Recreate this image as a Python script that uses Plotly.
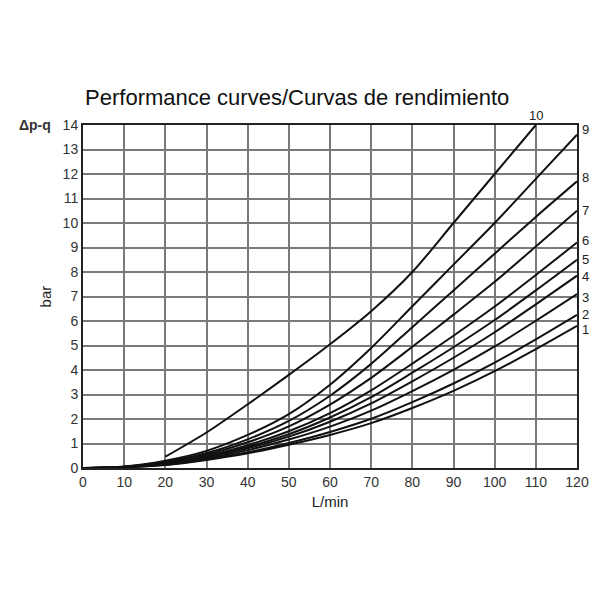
import plotly.graph_objects as go

# Flow (L/min)
flow = [0, 10, 20, 30, 40, 50, 60, 70, 80, 90, 100, 110, 120]

# Pressure drop (bar) for curves 1..9
curve_1 = [0, 0.03, 0.12, 0.33, 0.60, 0.95, 1.35, 1.83, 2.45, 3.15, 3.95, 4.85, 5.80]
curve_2 = [0, 0.03, 0.13, 0.35, 0.64, 1.02, 1.47, 2.01, 2.69, 3.45, 4.30, 5.25, 6.25]
curve_3 = [0, 0.035, 0.15, 0.39, 0.73, 1.16, 1.69, 2.34, 3.14, 4.01, 4.96, 6.01, 7.10]
curve_4 = [0, 0.04, 0.17, 0.43, 0.80, 1.28, 1.89, 2.64, 3.54, 4.50, 5.54, 6.68, 7.85]
curve_5 = [0, 0.04, 0.18, 0.46, 0.86, 1.38, 2.06, 2.89, 3.89, 4.93, 6.04, 7.25, 8.50]
curve_6 = [0, 0.045, 0.20, 0.49, 0.93, 1.50, 2.24, 3.17, 4.26, 5.40, 6.59, 7.88, 9.20]
curve_7 = [0, 0.05, 0.23, 0.55, 1.05, 1.70, 2.59, 3.68, 4.95, 6.26, 7.60, 9.04, 10.50]
curve_8 = [0, 0.055, 0.26, 0.61, 1.17, 1.92, 2.95, 4.25, 5.75, 7.25, 8.75, 10.25, 11.70]
curve_9 = [0, 0.06, 0.30, 0.70, 1.35, 2.20, 3.40, 4.90, 6.60, 8.30, 10.00, 11.80, 13.60]

# Curve 10 starts at 20 L/min
flow_10 = [20, 30, 40, 50, 60, 70, 80, 90, 100, 110]
curve_10 = [0.46, 1.45, 2.60, 3.80, 5.05, 6.40, 8.00, 10.00, 12.00, 14.00]

curve_names = ["1", "2", "3", "4", "5", "6", "7", "8", "9"]
curves = [curve_1, curve_2, curve_3, curve_4, curve_5, curve_6, curve_7, curve_8, curve_9]
label_yshift = [-4, 0, -3, -1, 0, 2, 0, 4, 5]  # pixel nudges for end labels

x_ticks = [0, 10, 20, 30, 40, 50, 60, 70, 80, 90, 100, 110, 120]
y_ticks = list(range(0, 15))

FONT = "Liberation Sans, Arial"

fig = go.Figure()
line_style = dict(color="#111111", width=2, shape="spline", smoothing=0.8)

for name, vals in zip(curve_names, curves):
    fig.add_trace(go.Scatter(x=flow, y=vals, mode="lines", line=line_style,
                             name=name, showlegend=False, hoverinfo="skip"))
fig.add_trace(go.Scatter(x=flow_10, y=curve_10, mode="lines", line=line_style,
                         name="10", showlegend=False, hoverinfo="skip"))

annotations = []
for name, vals, dy in zip(curve_names, curves, label_yshift):
    annotations.append(dict(x=flow[-1], y=vals[-1], xref="x", yref="y", text=name,
                            showarrow=False, xanchor="left", xshift=3, yshift=dy,
                            font=dict(size=13, color="#222", family=FONT)))
annotations.append(dict(x=flow_10[-1], y=curve_10[-1], xref="x", yref="y", text="10",
                        showarrow=False, yanchor="bottom", yshift=0,
                        font=dict(size=13, color="#222", family=FONT)))
annotations.append(dict(x=-0.097, y=1.0, xref="paper", yref="paper", text="<b>Δp-q</b>",
                        showarrow=False, xanchor="center", yanchor="middle",
                        font=dict(size=14, color="#333", family=FONT)))
annotations.append(dict(x=-0.075, y=0.5, xref="paper", yref="paper", text="bar",
                        showarrow=False, textangle=-90, xanchor="center", yanchor="middle",
                        font=dict(size=15, color="#222", family=FONT)))

fig.update_layout(
    width=600, height=600,
    paper_bgcolor="white", plot_bgcolor="white",
    margin=dict(l=75, r=31, t=117, b=140),
    title=dict(text="Performance curves/Curvas de rendimiento", x=0.482, xanchor="center",
               y=1 - 89 / 600, yanchor="middle",
               font=dict(size=22, color="#111", family=FONT)),
    annotations=annotations,
    xaxis=dict(range=[0, 120], tickmode="array", tickvals=x_ticks,
               showgrid=True, gridcolor="#7a7a7a", gridwidth=2,
               showline=True, linecolor="#222", linewidth=2, mirror=True,
               zeroline=False, ticks="",
               tickfont=dict(size=14, color="#333", family=FONT),
               title=dict(text="L/min", standoff=8,
                          font=dict(size=15, color="#222", family=FONT))),
    yaxis=dict(range=[0, 14], tickmode="array", tickvals=y_ticks,
               showgrid=True, gridcolor="#7a7a7a", gridwidth=2,
               showline=True, linecolor="#222", linewidth=2, mirror=True,
               zeroline=False, ticks="",
               tickfont=dict(size=14, color="#333", family=FONT)),
)

fig.write_html("out.html")
